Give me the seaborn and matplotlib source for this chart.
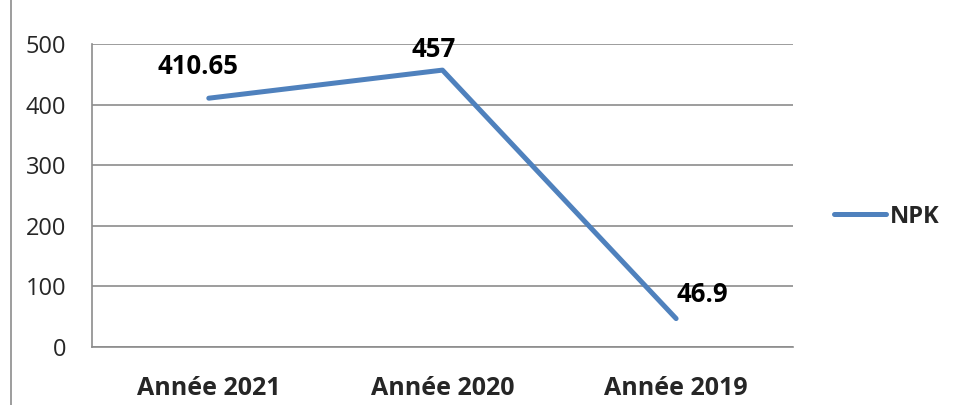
import numpy as np
import pandas as pd
import matplotlib
matplotlib.use("Agg")
import matplotlib.pyplot as plt
import seaborn as sns
from matplotlib.lines import Line2D

# ==========================================
# DATA
# ==========================================

years = ["Année 2021", "Année 2020", "Année 2019"]
npk = [410.65, 457, 46.9]
labels = ["410.65", "457", "46.9"]
series_name = "NPK"

df = pd.DataFrame({"Année": years, "NPK": npk})
df["pos"] = np.arange(len(df))

# ==========================================
# STYLE
# ==========================================

sns.set_style("white")
plt.rcParams["font.family"] = ["Open Sans", "DejaVu Sans"]

blue = "#4F81BD"
grid_col = "#8C8C8C"

fig = plt.figure(figsize=(9.55, 4.05), dpi=100)
ax = fig.add_axes([0.0963, 0.1432, 0.734, 0.748])

sns.lineplot(
    data=df, x="pos", y="NPK", ax=ax,
    color=blue, linewidth=3.6, solid_capstyle="round",
    solid_joinstyle="round", legend=False
)

# data labels
offsets = [(-8, 23), (-6, 14.5), (19, 17)]
for i, (v, lab) in enumerate(zip(npk, labels)):
    ax.annotate(lab, (i, v), xytext=offsets[i], textcoords="offset points",
                ha="center", va="center", fontsize=18.5, fontweight="bold",
                color="black")

# ==========================================
# AXES
# ==========================================

ax.set_xlim(-0.5, len(years) - 0.5)
ax.set_ylim(0, 500)
ax.set_yticks(range(0, 501, 100))
ax.set_xticks(range(len(years)))
ax.set_xticklabels(years, fontsize=18, fontweight="bold")
ax.set_xticks(np.arange(-0.5, len(years), 1.0), minor=True)
ax.tick_params(axis="x", which="major", length=0, pad=21)
ax.tick_params(axis="x", which="minor", length=6, width=1.2, color=grid_col)
ax.tick_params(axis="y", length=6.5, width=1.2, color=grid_col, labelsize=17, pad=12)
ax.set_xlabel("")
ax.set_ylabel("")

ax.yaxis.grid(True, color=grid_col, linewidth=1.2)
ax.set_axisbelow(True)
for side in ["top", "right"]:
    ax.spines[side].set_visible(False)
ax.spines["left"].set_color(grid_col)
ax.spines["left"].set_linewidth(1.2)
ax.spines["bottom"].set_color(grid_col)
ax.spines["bottom"].set_linewidth(1.2)

# legend
handle = Line2D([0], [0], color=blue, linewidth=3.6, solid_capstyle="round")
leg = fig.legend([handle], [series_name], loc="center left",
                 bbox_to_anchor=(0.851, 0.465), frameon=False,
                 handlelength=2.2, handletextpad=0.15,
                 prop={"size": 17, "weight": "bold"})

# left border line of the frame
fig.add_artist(Line2D([0.011, 0.011], [0, 1], color=grid_col,
                      linewidth=1.2, transform=fig.transFigure))

fig.savefig("out.png", dpi=100)
